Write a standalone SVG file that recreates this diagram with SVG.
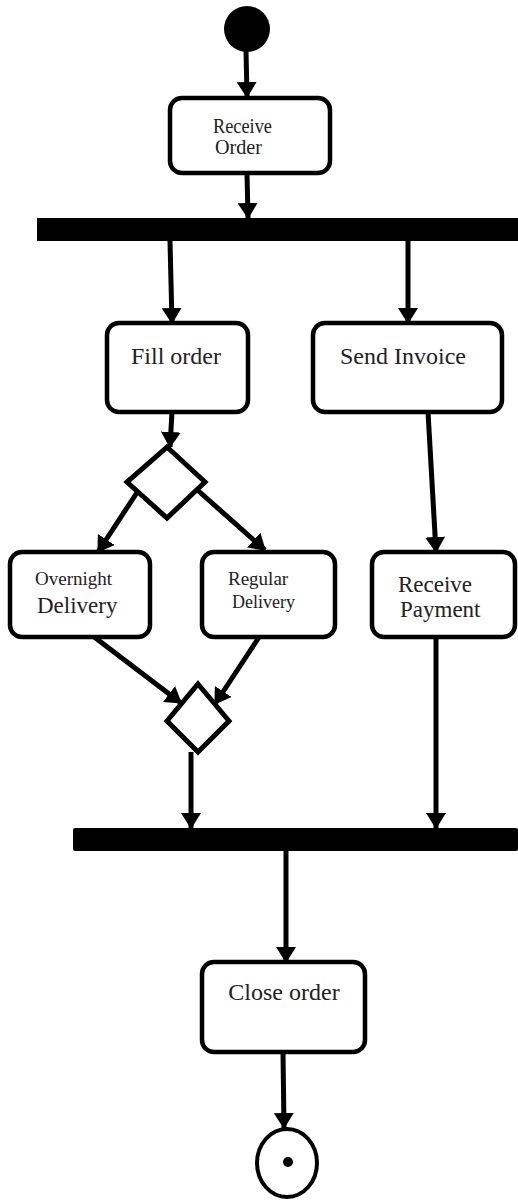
<svg xmlns="http://www.w3.org/2000/svg" width="518" height="1200" viewBox="0 0 518 1200">
  <defs>
    <marker id="arrow" markerUnits="userSpaceOnUse" markerWidth="16" markerHeight="20" refX="15" refY="10" orient="auto">
      <path d="M0,0 L16,10 L0,20 z" fill="#000"/>
    </marker>
    <style>
      .act { fill: #fff; stroke: #000; stroke-width: 4.5; }
      .bar { fill: #000; }
      .dec { fill: #fff; stroke: #000; stroke-width: 5; }
      .flow { fill: none; stroke: #000; stroke-width: 5; marker-end: url(#arrow); }
      .lbl { font-family: "Liberation Serif", "Times New Roman", serif; fill: #222; }
    </style>
  </defs>
  <rect width="518" height="1200" fill="#fff"/>

  <!-- connectors -->
  <g id="connectors">
    <path class="flow" d="M246,50 L247,97"/>
    <path class="flow" d="M247,173 L248,218"/>
    <path class="flow" d="M170,241 L172,323"/>
    <path class="flow" d="M408,241 L408,323"/>
    <path class="flow" d="M172,412 L170,447"/>
    <path class="flow" d="M428,412 L436,552"/>
    <path class="flow" d="M138,491 L98,552"/>
    <path class="flow" d="M194,487 L265,550"/>
    <path class="flow" d="M85,630 L181,703"/>
    <path class="flow" d="M267,625 L215,704"/>
    <path class="flow" d="M191,752 L191,828"/>
    <path class="flow" d="M436,637 L436,828"/>
    <path class="flow" d="M286,851 L286,962"/>
    <path class="flow" d="M283,1052 L284,1128"/>
  </g>

  <g id="start">
    <circle cx="247" cy="29" r="23" fill="#000"/>
  </g>

  <g id="receive-order">
    <rect class="act" x="170" y="98" width="160" height="75" rx="12"/>
    <text class="lbl" x="213" y="133" font-size="20" textLength="59" lengthAdjust="spacingAndGlyphs">Receive</text>
    <text class="lbl" x="215" y="154" font-size="20" textLength="47" lengthAdjust="spacingAndGlyphs">Order</text>
  </g>

  <g id="fork">
    <rect class="bar" x="37" y="218" width="481" height="23"/>
  </g>

  <g id="fill-order">
    <rect class="act" x="107" y="323" width="141" height="89" rx="12"/>
    <text class="lbl" x="176" y="364" font-size="24" text-anchor="middle">Fill order</text>
  </g>

  <g id="send-invoice">
    <rect class="act" x="313" y="323" width="189" height="89" rx="12"/>
    <text class="lbl" x="403" y="364" font-size="24" text-anchor="middle">Send Invoice</text>
  </g>

  <g id="branch">
    <polygon class="dec" points="167,447 205,482 167,518 127,482"/>
  </g>

  <g id="overnight-delivery">
    <rect class="act" x="10" y="552" width="140" height="85" rx="12"/>
    <text class="lbl" x="35" y="585" font-size="19">Overnight</text>
    <text class="lbl" x="37" y="613" font-size="23">Delivery</text>
  </g>

  <g id="regular-delivery">
    <rect class="act" x="202" y="552" width="133" height="85" rx="12"/>
    <text class="lbl" x="228" y="585" font-size="19">Regular</text>
    <text class="lbl" x="232" y="608" font-size="18">Delivery</text>
  </g>

  <g id="receive-payment">
    <rect class="act" x="372" y="552" width="143" height="85" rx="12"/>
    <text class="lbl" x="398" y="592" font-size="23">Receive</text>
    <text class="lbl" x="400" y="617" font-size="23">Payment</text>
  </g>

  <g id="merge">
    <polygon class="dec" points="198,684 229,721 198,752 167,721" stroke-width="3.5"/>
  </g>

  <g id="join">
    <rect class="bar" x="73" y="828" width="445" height="23" rx="2"/>
  </g>

  <g id="close-order">
    <rect class="act" x="202" y="962" width="163" height="90" rx="12"/>
    <text class="lbl" x="284" y="1000" font-size="24" text-anchor="middle">Close order</text>
  </g>

  <g id="end">
    <ellipse cx="287" cy="1163" rx="30" ry="34" fill="#fff" stroke="#000" stroke-width="4"/>
    <circle cx="288" cy="1162" r="5" fill="#000"/>
  </g>
</svg>
